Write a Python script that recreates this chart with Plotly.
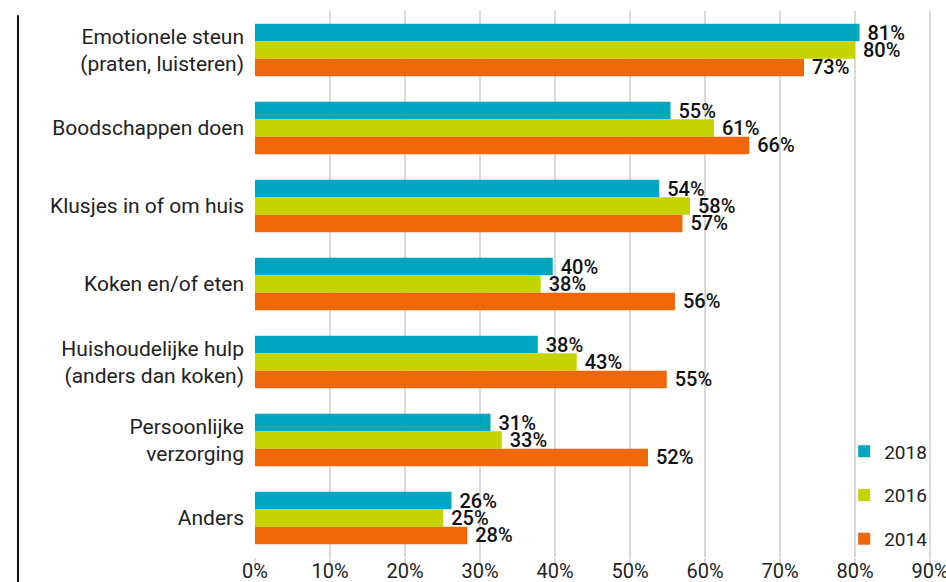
import plotly.graph_objects as go

categories = [
    "Emotionele steun<br>(praten, luisteren)",
    "Boodschappen doen",
    "Klusjes in of om huis",
    "Koken en/of eten",
    "Huishoudelijke hulp<br>(anders dan koken)",
    "Persoonlijke<br>verzorging",
    "Anders",
]
years = ["2018", "2016", "2014"]
v2018 = [80.6, 55.4, 53.9, 39.7, 37.7, 31.4, 26.2]
v2016 = [80.0, 61.2, 58.0, 38.1, 42.9, 32.9, 25.1]
v2014 = [73.2, 65.9, 57.0, 56.0, 54.9, 52.4, 28.3]
series = [v2018, v2016, v2014]
colors = ["#00A6BF", "#C5D400", "#EE670A"]
xticks = [0, 10, 20, 30, 40, 50, 60, 70, 80, 90]
xticklabels = [f"{t}%" for t in xticks]

FONT = "Roboto, DejaVu Sans, sans-serif"

fig = go.Figure()
for name, vals, col in zip(years, series, colors):
    fig.add_trace(go.Bar(
        y=categories, x=vals, name=name, orientation="h",
        marker=dict(color=col, line=dict(width=0)),
        texttemplate=" %{x:.0f}%", textposition="outside",
        constraintext="none", cliponaxis=False,
        textfont=dict(family=FONT, size=20, color="#111", weight=500),
        legendgroup=name,
    ))

fig.update_layout(
    width=946, height=582,
    margin=dict(l=255, r=13, t=11, b=25, autoexpand=False),
    barmode="group", bargap=0.33, bargroupgap=0,
    plot_bgcolor="white", paper_bgcolor="white",
    font=dict(family=FONT, size=20, color="#222"),
    showlegend=True,
    legend=dict(x=0.869, y=0.228, xanchor="left", yanchor="top",
                bgcolor="rgba(0,0,0,0)", tracegroupgap=16,
                font=dict(size=19, color="#222"), itemwidth=30),
    xaxis=dict(range=[0, 90.4], tickvals=xticks, ticktext=xticklabels,
               showgrid=True, gridcolor="#D9D9D9", gridwidth=2,
               zeroline=False, showline=False,
               ticks="outside", ticklen=6, tickcolor="#D9D9D9", tickwidth=2,
               ticklabelstandoff=-10, ticklabeloverflow="allow",
               tickfont=dict(size=20, color="#222")),
    yaxis=dict(autorange="reversed", showgrid=False, zeroline=False,
               showline=False, ticks="", ticklabelstandoff=10,
               tickfont=dict(size=21, color="#222")),
    shapes=[dict(type="line", xref="paper", yref="paper",
                 x0=-0.3496, x1=-0.3496, y0=0.992, y1=-0.05,
                 line=dict(color="#111", width=2))],
)

fig.write_html(
    "out.html",
    config={"displayModeBar": False},
    post_script="document.body.style.margin='0';document.body.style.overflow='hidden';",
)
